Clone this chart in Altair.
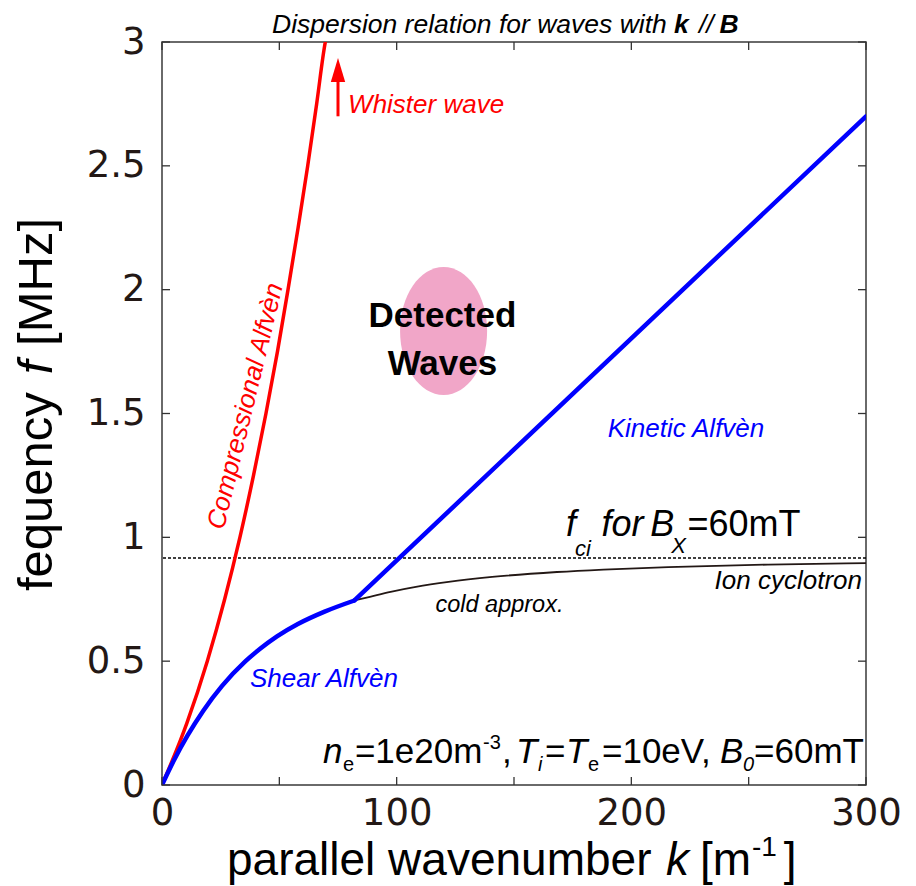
import altair as alt
import pandas as pd

# ---------------- data ----------------
# compressional Alfven / whistler branch (red)
red_k = [0, 10.6, 19.3, 26.7, 33.2, 39.0, 44.3, 49.2, 53.7, 58.0, 62.1, 65.9, 69.6, 71.0]
red_f = [0, 0.25, 0.50, 0.75, 1.00, 1.25, 1.50, 1.75, 2.00, 2.25, 2.50, 2.75, 3.00, 3.06]
# shear Alfven branch (blue, curved part)
shear_k = [0, 5.1, 10.9, 17.6, 25.6, 35.6, 41.8, 49.0, 57.9, 69.3, 82.0]
shear_f = [0, 0.10, 0.20, 0.30, 0.40, 0.50, 0.55, 0.60, 0.65, 0.70, 0.745]
# kinetic Alfven branch (blue, straight part)
kinetic_k = [82.0, 300]
kinetic_f = [0.745, 2.70]
# ion cyclotron, cold approximation (black)
ion_k = [82.0, 88.6, 97.4, 108.2, 122.1, 140.7, 168.3, 188.1, 215.7, 258.3, 300]
ion_f = [0.745, 0.76, 0.78, 0.80, 0.82, 0.84, 0.86, 0.87, 0.88, 0.89, 0.896]
# ion cyclotron frequency (dotted line)
f_ci = [0.917]
# detected waves blob
detected_k = [120.0]
detected_f = [1.833]
# whistler arrow
arrow_k = [75.0]
arrow_f0 = [2.70]
arrow_f1 = [2.86]
arrow_head_f = [2.887]
# axes
x_ticks = [0, 50, 100, 150, 200, 250, 300]
x_labels = [0, 100, 200, 300]
y_ticks = [0, 0.5, 1, 1.5, 2, 2.5, 3]

SANS = "Liberation Sans"
TICK_FONT = "DejaVu Sans"
INK = "#231815"
RED = "#ff0000"
BLUE = "#0000ff"
BLACK = "#000000"

# text pieces: (text, k, f, size, color, angle, font, style, weight, align, baseline)
pieces = [
    ("Dispersion relation for waves with", 46.9, 3.036, 26.5, BLACK, 0, SANS, "italic", "normal", "left", "alphabetic"),
    ("k", 218.2, 3.036, 26.5, BLACK, 0, SANS, "italic", "bold", "left", "alphabetic"),
    ("//", 228.8, 3.036, 26.5, BLACK, 0, SANS, "italic", "normal", "left", "alphabetic"),
    ("B", 237.6, 3.036, 26.5, BLACK, 0, SANS, "italic", "bold", "left", "alphabetic"),
    ("Whister wave", 79.3, 2.746, 26, RED, 0, SANS, "italic", "normal", "left", "middle"),
    ("Compressional Alfvèn", 35.6, 1.530, 26, RED, 283.6, SANS, "italic", "normal", "center", "middle"),
    ("Detected", 119.5, 1.894, 35, BLACK, 0, SANS, "normal", "bold", "center", "middle"),
    ("Waves", 119.5, 1.700, 35, BLACK, 0, SANS, "normal", "bold", "center", "middle"),
    ("Kinetic Alfvèn", 223.3, 1.437, 26, BLUE, 0, SANS, "italic", "normal", "center", "middle"),
    ("f", 172.2, 1.005, 36, BLACK, 0, SANS, "italic", "normal", "left", "alphabetic"),
    ("ci", 176.0, 0.925, 22, BLACK, 0, SANS, "italic", "normal", "left", "alphabetic"),
    ("for", 187.3, 1.005, 36, BLACK, 0, SANS, "italic", "normal", "left", "alphabetic"),
    ("B", 208.1, 1.005, 36, BLACK, 0, SANS, "italic", "normal", "left", "alphabetic"),
    ("X", 217.0, 0.937, 22, BLACK, 0, SANS, "italic", "normal", "left", "alphabetic"),
    ("=60mT", 223.9, 1.005, 36, BLACK, 0, SANS, "normal", "normal", "left", "alphabetic"),
    ("cold approx.", 143.8, 0.727, 23.5, BLACK, 0, SANS, "italic", "normal", "center", "middle"),
    ("Ion cyclotron", 298.3, 0.824, 26, BLACK, 0, SANS, "italic", "normal", "right", "middle"),
    ("Shear Alfvèn", 37.5, 0.428, 26, BLUE, 0, SANS, "italic", "normal", "left", "middle"),
    # parameters
    ("n", 68.6, 0.089, 35, BLACK, 0, SANS, "italic", "normal", "left", "alphabetic"),
    ("e", 77.1, 0.057, 20, BLACK, 0, SANS, "normal", "normal", "left", "alphabetic"),
    ("=1e20m", 82.2, 0.089, 35, BLACK, 0, SANS, "normal", "normal", "left", "alphabetic"),
    ("-3", 136.8, 0.145, 20, BLACK, 0, SANS, "normal", "normal", "left", "alphabetic"),
    (",", 144.9, 0.089, 35, BLACK, 0, SANS, "normal", "normal", "left", "alphabetic"),
    ("T", 150.9, 0.089, 35, BLACK, 0, SANS, "italic", "normal", "left", "alphabetic"),
    ("i", 160.2, 0.057, 20, BLACK, 0, SANS, "italic", "normal", "left", "alphabetic"),
    ("=", 163.2, 0.089, 35, BLACK, 0, SANS, "normal", "normal", "left", "alphabetic"),
    ("T", 172.2, 0.089, 35, BLACK, 0, SANS, "italic", "normal", "left", "alphabetic"),
    ("e", 181.5, 0.057, 20, BLACK, 0, SANS, "normal", "normal", "left", "alphabetic"),
    ("=10eV,", 187.5, 0.089, 35, BLACK, 0, SANS, "normal", "normal", "left", "alphabetic"),
    ("B", 237.8, 0.089, 35, BLACK, 0, SANS, "italic", "normal", "left", "alphabetic"),
    ("0", 247.6, 0.057, 20, BLACK, 0, SANS, "italic", "normal", "left", "alphabetic"),
    ("=60mT", 252.3, 0.089, 35, BLACK, 0, SANS, "normal", "normal", "left", "alphabetic"),
    # x axis title
    ("parallel wavenumber", 27.7, -0.363, 46, BLACK, 0, SANS, "normal", "normal", "left", "alphabetic"),
    ("k", 214.8, -0.363, 46, BLACK, 0, SANS, "italic", "normal", "left", "alphabetic"),
    ("[m", 229.3, -0.363, 46, BLACK, 0, SANS, "normal", "normal", "left", "alphabetic"),
    ("-1", 251.4, -0.288, 28, BLACK, 0, SANS, "normal", "normal", "left", "alphabetic"),
    ("]", 265.0, -0.363, 46, BLACK, 0, SANS, "normal", "normal", "left", "alphabetic"),
    # y axis title
    ("fequency", -47.0, 0.783, 49, BLACK, 270, SANS, "normal", "normal", "left", "alphabetic"),
    ("f", -47.0, 1.658, 49, BLACK, 270, SANS, "italic", "normal", "left", "alphabetic"),
    ("[MHz]", -47.0, 1.773, 49, BLACK, 270, SANS, "normal", "normal", "left", "alphabetic"),
]

W, H = 704, 743

xs = alt.Scale(domain=[0, 300], nice=False, zero=False)
ys = alt.Scale(domain=[0, 3], nice=False, zero=False)
xaxis = alt.Axis(values=x_labels, title=None, ticks=False, domain=False, grid=False,
                 labelFont=TICK_FONT, labelFontSize=37, labelColor=INK, labelPadding=10,
                 labelFlush=False, labelOverlap=False)
yaxis = alt.Axis(values=y_ticks, format="~g", title=None, ticks=False, domain=False, grid=False,
                 labelFont=TICK_FONT, labelFontSize=37, labelColor=INK, labelPadding=17,
                 labelFlush=False, labelOverlap=False)


def X(field="k"):
    return alt.X(f"{field}:Q", scale=xs, axis=xaxis)


def Y(field="f"):
    return alt.Y(f"{field}:Q", scale=ys, axis=yaxis)


layers = []

ELLIPSE = "M -0.68 0 A 0.68 1 0 1 0 0.68 0 A 0.68 1 0 1 0 -0.68 0 Z"
layers.append(
    alt.Chart(pd.DataFrame({"k": detected_k, "f": detected_f}))
    .mark_point(shape=ELLIPSE, size=16384, filled=True, color="#f1a6c8", opacity=1, strokeWidth=0)
    .encode(x=X(), y=Y())
)

layers.append(
    alt.Chart(pd.DataFrame({"k": ion_k, "f": ion_f}))
    .mark_line(color=INK, strokeWidth=1.8, clip=True, interpolate="monotone")
    .encode(x=X(), y=Y())
)

layers.append(
    alt.Chart(pd.DataFrame({"f": f_ci}))
    .mark_rule(color=BLACK, strokeWidth=1.5, strokeDash=[3, 2])
    .encode(y=Y())
)

layers.append(
    alt.Chart(pd.DataFrame({"k": red_k, "f": red_f}))
    .mark_line(color=RED, strokeWidth=3.5, clip=True, interpolate="monotone")
    .encode(x=X(), y=Y())
)

layers.append(
    alt.Chart(pd.DataFrame({"k": shear_k, "f": shear_f}))
    .mark_line(color=BLUE, strokeWidth=4.5, clip=True, interpolate="monotone", strokeCap="round")
    .encode(x=X(), y=Y())
)
layers.append(
    alt.Chart(pd.DataFrame({"k": kinetic_k, "f": kinetic_f}))
    .mark_line(color=BLUE, strokeWidth=4.5, clip=True, strokeCap="round")
    .encode(x=X(), y=Y())
)

layers.append(
    alt.Chart(pd.DataFrame({"k": arrow_k, "f": arrow_f0, "f2": arrow_f1}))
    .mark_rule(color=RED, strokeWidth=3)
    .encode(x=X(), y=Y(), y2="f2:Q")
)
TRI = "M 0 -1 L 0.6 1 L -0.6 1 Z"
layers.append(
    alt.Chart(pd.DataFrame({"k": arrow_k, "f": arrow_head_f}))
    .mark_point(shape=TRI, size=576, filled=True, color=RED, opacity=1, strokeWidth=0)
    .encode(x=X(), y=Y())
)

# inward ticks on all four sides
TICK = "#333333"
xt = pd.DataFrame({"k": x_ticks})
yt = pd.DataFrame({"f": y_ticks})
layers.append(alt.Chart(xt).mark_rule(color=TICK, strokeWidth=1.3)
              .encode(x=X(), y=alt.value(H), y2=alt.value(H - 8)))
layers.append(alt.Chart(xt).mark_rule(color=TICK, strokeWidth=1.3)
              .encode(x=X(), y=alt.value(0), y2=alt.value(8)))
layers.append(alt.Chart(yt).mark_rule(color=TICK, strokeWidth=1.3)
              .encode(y=Y(), x=alt.value(0), x2=alt.value(8)))
layers.append(alt.Chart(yt).mark_rule(color=TICK, strokeWidth=1.3)
              .encode(y=Y(), x=alt.value(W), x2=alt.value(W - 8)))

# annotation texts
tdf = pd.DataFrame(pieces, columns=["text", "k", "f", "size", "color", "angle",
                                    "font", "style", "weight", "align", "baseline"])
for key, grp in tdf.groupby(["font", "style", "weight", "align", "baseline"], sort=False):
    font, style, weight, align, baseline = key
    layers.append(
        alt.Chart(grp.reset_index(drop=True))
        .mark_text(font=font, fontStyle=style, fontWeight=weight, align=align, baseline=baseline)
        .encode(
            x=X(), y=Y(), text="text:N",
            size=alt.Size("size:Q", scale=None, legend=None),
            color=alt.Color("color:N", scale=None, legend=None),
            angle=alt.Angle("angle:Q", scale=None, legend=None),
        )
    )

chart = (
    alt.layer(*layers)
    .properties(
        width=W, height=H,
        padding={"left": 162, "top": 42, "right": 50, "bottom": 101},
        autosize=alt.AutoSizeParams(type="none"),
        background="white",
    )
    .configure_view(stroke="#3a3a3a", strokeWidth=1.5)
)

chart.save("out.html", embed_options={"renderer": "svg", "actions": False})
